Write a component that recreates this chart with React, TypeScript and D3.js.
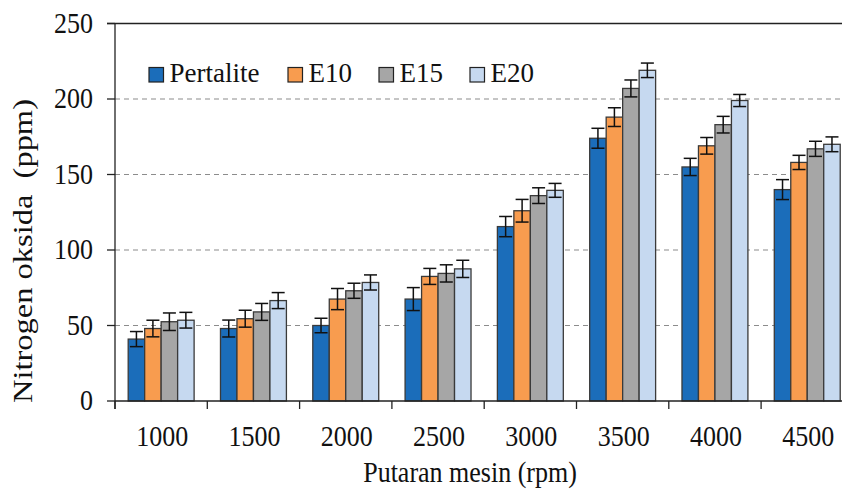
import React from "react";
import * as d3 from "d3";

const categories = ["1000", "1500", "2000", "2500", "3000", "3500", "4000", "4500"];
const seriesNames = ["Pertalite", "E10", "E15", "E20"];
const pertalite = [41, 48, 50, 67.5, 115.5, 174, 155, 140];
const e10 = [48, 54.5, 67.5, 82.5, 126, 188, 169, 158];
const e15 = [52.5, 59, 73, 84.5, 136, 207, 183, 167];
const e20 = [53.5, 66.5, 78.5, 87.5, 139.5, 219, 199, 170];
const errPertalite = [5, 5.6, 4.8, 7.6, 6.7, 6.6, 5.7, 6.6];
const errE10 = [5.5, 5.6, 7, 5.3, 7.5, 6.2, 5.5, 4.7];
const errE15 = [5.8, 5.6, 5, 5.7, 5.2, 5.6, 5.5, 5];
const errE20 = [5.2, 5.3, 5, 5.7, 4.6, 4.8, 4, 4.9];
const yTicks = [0, 50, 100, 150, 200, 250];
const gridTicks = [50, 100, 150, 200];
const colors = ["#1b6dba", "#f89c4f", "#a6a6a6", "#c6d9f0"];

const values = [pertalite, e10, e15, e20];
const errors = [errPertalite, errE10, errE15, errE20];

const W = 842;
const H = 490;
const left = 115;
const right = 853.4;
const top = 23.5;
const bottom = 401;

export default function App() {
  const x0 = d3.scaleBand<string>().domain(categories).range([left, right]).padding(0);
  const x1 = d3
    .scaleBand<string>()
    .domain(seriesNames)
    .range([0, x0.step()])
    .paddingInner(0)
    .paddingOuter(0.8);
  const y = d3.scaleLinear().domain([0, 250]).range([bottom, top]);
  const bw = x1.bandwidth();
  const cap = 6.5;
  const serif = "'Liberation Serif', 'Times New Roman', serif";
  const boundaries = categories.map((c) => x0(c) as number);

  const legendX = [149, 288, 379, 470];

  return (
    <svg
      width={W}
      height={H}
      style={{ position: "absolute", left: 0, top: 0, background: "#fff" }}
    >
      <rect x={0} y={0} width={W} height={H} fill="#fff" />
      {gridTicks.map((t) => (
        <line
          key={t}
          x1={left}
          x2={W}
          y1={y(t)}
          y2={y(t)}
          stroke="#8c8c8c"
          strokeWidth={1.2}
          strokeDasharray="5,4"
        />
      ))}
      <line x1={107} x2={W} y1={y(250)} y2={y(250)} stroke="#222" strokeWidth={1.3} />
      {values.map((vals, si) =>
        vals.map((v, ci) => {
          const bx = (x0(categories[ci]) as number) + (x1(seriesNames[si]) as number);
          return (
            <rect
              key={`b${si}-${ci}`}
              x={bx}
              y={y(v)}
              width={bw}
              height={y(0) - y(v)}
              fill={colors[si]}
              stroke="#3a3a3a"
              strokeWidth={1.3}
            />
          );
        })
      )}
      {values.map((vals, si) =>
        vals.map((v, ci) => {
          const cx = (x0(categories[ci]) as number) + (x1(seriesNames[si]) as number) + bw / 2;
          const e = errors[si][ci];
          return (
            <g key={`e${si}-${ci}`} stroke="#111" strokeWidth={1.5}>
              <line x1={cx} x2={cx} y1={y(v + e)} y2={y(v - e)} />
              <line x1={cx - cap} x2={cx + cap} y1={y(v + e)} y2={y(v + e)} />
              <line x1={cx - cap} x2={cx + cap} y1={y(v - e)} y2={y(v - e)} />
            </g>
          );
        })
      )}
      <line x1={left} x2={left} y1={top} y2={bottom + 8} stroke="#222" strokeWidth={1.3} />
      <line x1={left} x2={W} y1={bottom} y2={bottom} stroke="#222" strokeWidth={1.3} />
      {yTicks.map((t) => (
        <g key={`yt${t}`}>
          <line x1={107} x2={left} y1={y(t)} y2={y(t)} stroke="#222" strokeWidth={1.3} />
          <text
            x={0}
            y={0}
            transform={`translate(93, ${y(t) + 9}) scale(1, 1.12)`}
            textAnchor="end"
            fontFamily={serif}
            fontSize={26}
            fill="#111"
          >
            {t}
          </text>
        </g>
      ))}
      {boundaries.map((b, i) => (
        <line key={`xt${i}`} x1={b} x2={b} y1={bottom} y2={bottom + 8} stroke="#222" strokeWidth={1.3} />
      ))}
      {categories.map((c) => (
        <text
          key={`xl${c}`}
          x={0}
          y={0}
          transform={`translate(${(x0(c) as number) + x0.step() / 2 + 1}, 446) scale(1, 1.12)`}
          textAnchor="middle"
          fontFamily={serif}
          fontSize={26}
          fill="#111"
        >
          {c}
        </text>
      ))}
      <text
        x={0}
        y={0}
        transform={`translate(470, 482) scale(1, 1.12)`}
        textAnchor="middle"
        fontFamily={serif}
        fontSize={26}
        fill="#111"
      >
        Putaran mesin (rpm)
      </text>
      <text
        x={0}
        y={0}
        transform={`translate(32, 251) rotate(-90) scale(1.16, 1)`}
        textAnchor="middle"
        fontFamily={serif}
        fontSize={28}
        fill="#111"
        style={{ whiteSpace: "pre" }}
      >
        {"Nitrogen oksida  (ppm)"}
      </text>
      {seriesNames.map((s, i) => (
        <g key={`lg${s}`}>
          <rect
            x={legendX[i]}
            y={67.5}
            width={14.5}
            height={14.5}
            fill={colors[i]}
            stroke="#222"
            strokeWidth={1.2}
          />
          <text
            x={legendX[i] + 20.5}
            y={82}
            fontFamily={serif}
            fontSize={27}
            fill="#111"
          >
            {s}
          </text>
        </g>
      ))}
    </svg>
  );
}
